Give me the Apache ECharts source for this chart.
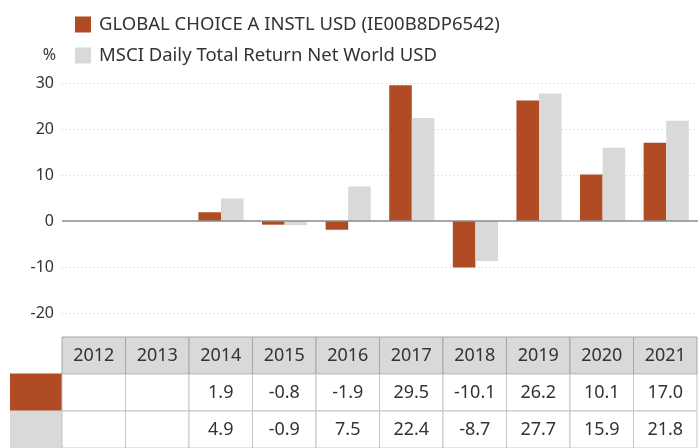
<!DOCTYPE html>
<html><head><meta charset="utf-8">
<script src="https://cdn.jsdelivr.net/npm/echarts@6/dist/echarts.min.js"></script>
<style>html,body{margin:0;padding:0;background:#fff}#c{width:698px;height:448px}</style>
</head><body><div id="c"></div>
<script>
const years = ['2012','2013','2014','2015','2016','2017','2018','2019','2020','2021'];
const fundName = 'GLOBAL CHOICE A INSTL USD (IE00B8DP6542)';
const indexName = 'MSCI Daily Total Return Net World USD';
const fundValues = [null,null,1.9,-0.8,-1.9,29.5,-10.1,26.2,10.1,17.0];
const indexValues = [null,null,4.9,-0.9,7.5,22.4,-8.7,27.7,15.9,21.8];
const yTicks = [-20,-10,0,10,20,30];

const C1 = '#b04b24', C2 = '#d9d9d9';
const FONT = '"Noto Sans", sans-serif';

const tableData = [];
years.forEach((y,i)=>{
  tableData.push([i,0,y]);
  tableData.push([i,1,fundValues[i]==null?'':fundValues[i].toFixed(1)]);
  tableData.push([i,2,indexValues[i]==null?'':indexValues[i].toFixed(1)]);
});

const chart = echarts.init(document.getElementById('c'));
chart.setOption({
  animation:false,
  textStyle:{fontFamily:FONT},
  legend:{
    orient:'vertical', left:75, top:15, itemWidth:16, itemHeight:16, itemGap:12,
    icon:'rect', selectedMode:false, padding:0,
    textStyle:{fontSize:18.5,lineHeight:16,color:'#333',fontFamily:FONT, padding:[0,0,0,3]},
    data:[fundName,indexName]
  },
  grid:[
    {left:62,right:0,top:83,bottom:135},
    {left:62,right:1,top:337,bottom:-4}
  ],
  xAxis:[
    {type:'category',data:years,gridIndex:0,axisLine:{show:false},axisTick:{show:false},axisLabel:{show:false}},
    {type:'category',data:years,gridIndex:1,show:false}
  ],
  yAxis:[
    {type:'value',gridIndex:0,min:yTicks[0],max:yTicks[yTicks.length-1],interval:10,
     name:'%',nameLocation:'end',nameGap:20,
     nameTextStyle:{align:'right',fontSize:16,color:'#333',fontFamily:FONT,padding:[0,6,0,0]},
     axisLine:{show:false},axisTick:{show:false},
     axisLabel:{fontSize:16,color:'#333',margin:8,fontFamily:FONT},
     splitLine:{lineStyle:{color:'#cfcfcf',type:[1,3],width:1}}},
    {type:'category',gridIndex:1,data:['h','a','b'],inverse:true,
     axisLine:{show:false},axisTick:{show:false},
     axisLabel:{margin:0,interval:0,hideOverlap:false,formatter:(v,i)=> i===0?'':'{s'+i+'|}',
       rich:{s1:{width:52,height:38,backgroundColor:C1},s2:{width:52,height:38,backgroundColor:C2}}}}
  ],
  series:[
    {name:fundName,type:'bar',data:fundValues,itemStyle:{color:C1},barGap:'0%',barCategoryGap:'29%',
     markLine:{silent:true,symbol:'none',label:{show:false},lineStyle:{color:'#878f8f',type:'solid',width:1.5},data:[{yAxis:0}]}},
    {name:indexName,type:'bar',data:indexValues,itemStyle:{color:C2},barGap:'0%',barCategoryGap:'29%'},
    {type:'custom',xAxisIndex:1,yAxisIndex:1,data:tableData,
     renderItem:(params,api)=>{
       const x=api.value(0), r=api.value(1);
       const c=api.coord([x,r]); const s=api.size([1,1]);
       const txt=tableData[params.dataIndex][2];
       return {type:'group',children:[
         {type:'rect',shape:{x:c[0]-s[0]/2,y:c[1]-s[1]/2,width:s[0],height:s[1]},
          style:{fill:r===0?'#d9d9d9':'#fff',stroke:r===0?'#a6a6a6':'#c4c4c4',lineWidth:1}},
         {type:'text',style:{text:txt,x:c[0],y:c[1],align:'center',verticalAlign:'middle',
          fontSize:18,fill:'#333',fontFamily:FONT}}
       ]};
     }}
  ]
});
</script></body></html>
